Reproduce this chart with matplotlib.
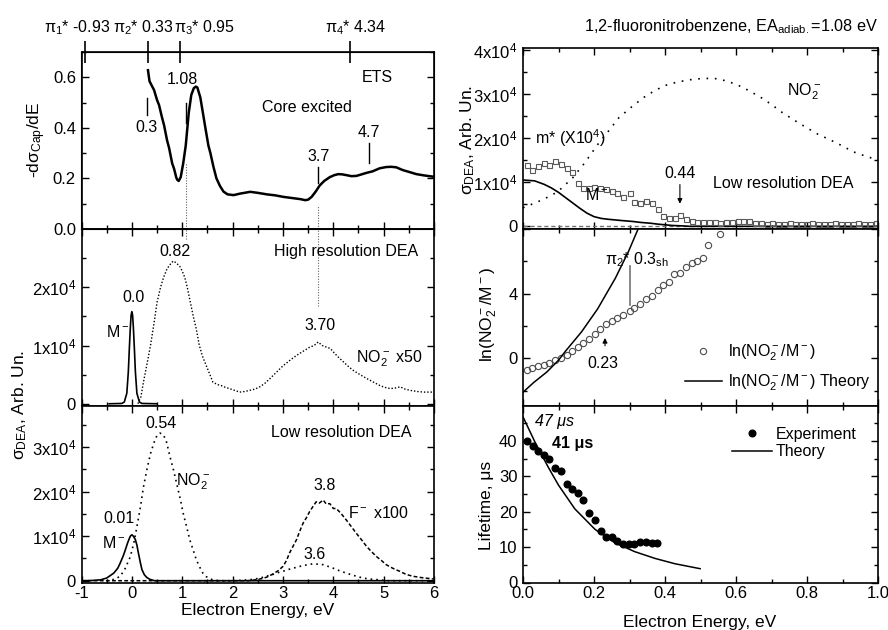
import numpy as np
import matplotlib
matplotlib.use("Agg")
import matplotlib.pyplot as plt
from matplotlib.ticker import MultipleLocator, FixedLocator, NullLocator, NullFormatter
import matplotlib.transforms as mtransforms

plt.rcParams['font.family'] = ['Liberation Sans', 'DejaVu Sans']
plt.rcParams['mathtext.fontset'] = 'custom'
plt.rcParams['mathtext.rm'] = 'Liberation Sans'
plt.rcParams['mathtext.it'] = 'Liberation Sans:italic'
plt.rcParams['mathtext.bf'] = 'Liberation Sans:bold'
plt.rcParams['mathtext.default'] = 'regular'
plt.rcParams['axes.unicode_minus'] = False

# ---------------- data ----------------
# ETS derivative, top left
ets_x = [0.32, 0.35, 0.37, 0.40, 0.44, 0.50, 0.54, 0.60, 0.64, 0.70, 0.74, 0.80, 0.84,
         0.88, 0.90, 0.93, 0.97, 1.02, 1.07, 1.13, 1.18, 1.23, 1.27, 1.30, 1.36, 1.41,
         1.46, 1.52, 1.56, 1.62, 1.68, 1.75, 1.82, 1.90, 2.02, 2.15, 2.35, 2.50, 2.68,
         2.85, 3.01, 3.20, 3.35, 3.44, 3.50, 3.57, 3.65, 3.73, 3.82, 3.93, 4.02, 4.10,
         4.18, 4.26, 4.36, 4.46, 4.56, 4.66, 4.78, 4.92, 5.05, 5.15, 5.25, 5.38, 5.50,
         5.65, 5.80, 5.98]
ets_y = [0.628, 0.585, 0.577, 0.565, 0.55, 0.51, 0.49, 0.44, 0.41, 0.35, 0.32, 0.26, 0.237,
         0.205, 0.195, 0.19, 0.205, 0.26, 0.33, 0.46, 0.53, 0.557, 0.563, 0.56, 0.52, 0.46,
         0.40, 0.33, 0.30, 0.246, 0.20, 0.17, 0.148, 0.137, 0.134, 0.14, 0.147, 0.143, 0.137,
         0.133, 0.127, 0.122, 0.118, 0.114, 0.116, 0.127, 0.148, 0.172, 0.19, 0.205, 0.213,
         0.217, 0.216, 0.213, 0.209, 0.21, 0.216, 0.222, 0.228, 0.24, 0.245, 0.246, 0.244,
         0.233, 0.226, 0.217, 0.212, 0.207]
pi_pos = [-0.93, 0.33, 0.95, 4.34]
pi_labels = ["π$_1$* -0.93", "π$_2$* 0.33", "π$_3$* 0.95", "π$_4$* 4.34"]

# high resolution DEA (units of 1e4)
hr_m_x = [-0.45, -0.2, -0.15, -0.1, -0.07, -0.05, -0.03, -0.015, 0.0, 0.015, 0.03, 0.05,
          0.07, 0.1, 0.15, 0.2, 0.5]
hr_m_y = [0.0, 0.005, 0.03, 0.18, 0.55, 0.95, 1.31, 1.52, 1.58, 1.52, 1.31, 0.95, 0.55,
          0.18, 0.03, 0.005, 0.0]
hr_no2_x = [0.12, 0.18, 0.23, 0.30, 0.37, 0.44, 0.50, 0.57, 0.63, 0.70, 0.76, 0.82, 0.88,
            0.95, 1.00, 1.05, 1.10, 1.15, 1.22, 1.28, 1.34, 1.40, 1.48, 1.55, 1.61, 1.70,
            1.78, 1.86, 1.94, 2.04, 2.14, 2.24, 2.34, 2.44, 2.54, 2.64, 2.74, 2.87, 3.00,
            3.13, 3.27, 3.40, 3.53, 3.62, 3.70, 3.78, 3.87, 3.94, 4.00, 4.10, 4.20, 4.30,
            4.40, 4.53, 4.67, 4.80, 4.93, 5.03, 5.13, 5.23, 5.33, 5.43, 5.53, 5.67, 5.80, 5.98]
hr_no2_y = [0.0, 0.12, 0.37, 0.68, 1.0, 1.38, 1.74, 2.0, 2.17, 2.32, 2.39, 2.45, 2.42,
            2.36, 2.28, 2.17, 2.0, 1.79, 1.5, 1.28, 1.0, 0.82, 0.65, 0.5, 0.37, 0.33,
            0.31, 0.28, 0.26, 0.23, 0.2, 0.21, 0.23, 0.25, 0.29, 0.35, 0.43, 0.54, 0.65,
            0.74, 0.83, 0.9, 0.97, 1.0, 1.06, 1.0, 0.97, 0.95, 0.89, 0.80, 0.72, 0.64,
            0.57, 0.50, 0.43, 0.37, 0.31, 0.28, 0.26, 0.27, 0.29, 0.25, 0.23, 0.21, 0.20, 0.20]

# low resolution DEA (units of 1e4)
lr_m_x = [-1.0, -0.8, -0.62, -0.5, -0.36, -0.28, -0.23, -0.17, -0.13, -0.09, -0.06, -0.03,
          0.0, 0.03, 0.07, 0.10, 0.13, 0.17, 0.20, 0.25, 0.30, 0.36, 0.45, 6.0]
lr_m_y = [0.0, 0.005, 0.02, 0.06, 0.17, 0.28, 0.40, 0.56, 0.69, 0.83, 0.92, 1.0,
          1.03, 1.0, 0.92, 0.80, 0.62, 0.40, 0.25, 0.13, 0.07, 0.03, 0.0, 0.0]
lr_no2_x = [-0.5, -0.35, -0.23, -0.13, -0.03, 0.04, 0.10, 0.17, 0.23, 0.30, 0.37, 0.44,
            0.50, 0.56, 0.62, 0.68, 0.76, 0.83, 0.89, 0.96, 1.02, 1.09, 1.15, 1.22, 1.28,
            1.35, 1.41, 1.48, 1.55, 1.65, 1.75, 1.9, 2.0, 2.2, 2.4, 2.55, 2.67, 2.8, 2.9,
            3.0, 3.1, 3.2, 3.3, 3.4, 3.5, 3.6, 3.7, 3.8, 3.9, 4.0, 4.13, 4.26, 4.4, 4.52,
            4.65, 4.79, 4.92, 5.05, 5.3, 5.6, 6.0]
lr_no2_y = [0.0, 0.03, 0.1, 0.28, 0.54, 0.85, 1.21, 1.65, 2.1, 2.5, 2.85, 3.1, 3.26, 3.31,
            3.28, 3.15, 2.77, 2.47, 2.18, 1.84, 1.51, 1.2, 0.92, 0.68, 0.47, 0.3, 0.17,
            0.09, 0.04, 0.01, 0.0, 0.0, 0.0, 0.01, 0.03, 0.06, 0.1, 0.14, 0.18, 0.21, 0.25,
            0.28, 0.31, 0.34, 0.36, 0.38, 0.37, 0.36, 0.32, 0.28, 0.22, 0.17, 0.12, 0.08,
            0.05, 0.03, 0.02, 0.0, 0.0, 0.0, 0.0]
lr_f_x = [-1.0, 2.3, 2.45, 2.6, 2.7, 2.8, 2.9, 3.0, 3.07, 3.13, 3.2, 3.27, 3.33, 3.4, 3.47,
          3.53, 3.6, 3.66, 3.72, 3.8, 3.86, 3.93, 4.0, 4.06, 4.16, 4.26, 4.36, 4.46, 4.56,
          4.66, 4.76, 4.86, 4.96, 5.05, 5.18, 5.32, 5.45, 5.58, 5.75, 5.98]
lr_f_y = [0.0, 0.0, 0.02, 0.05, 0.09, 0.15, 0.22, 0.32, 0.45, 0.62, 0.77, 0.92, 1.1, 1.29,
          1.42, 1.55, 1.67, 1.77, 1.74, 1.81, 1.72, 1.73, 1.62, 1.62, 1.5, 1.36, 1.21, 1.06,
          0.92, 0.77, 0.65, 0.54, 0.45, 0.36, 0.28, 0.21, 0.14, 0.1, 0.07, 0.04]

# right top: low resolution DEA near 0 eV (units of 1e4)
rt_no2_x = [0.0, 0.04, 0.08, 0.10, 0.14, 0.175, 0.21, 0.24, 0.27, 0.305, 0.34, 0.37, 0.40,
            0.435, 0.47, 0.505, 0.54, 0.57, 0.60, 0.635, 0.67, 0.70, 0.73, 0.765, 0.80,
            0.83, 0.865, 0.90, 0.93, 0.965, 1.0]
rt_no2_y = [0.42, 0.55, 0.70, 0.80, 1.1, 1.45, 1.85, 2.15, 2.46, 2.7, 2.92, 3.07, 3.19,
            3.27, 3.32, 3.35, 3.35, 3.3, 3.22, 3.08, 2.92, 2.76, 2.58, 2.4, 2.23, 2.09,
            1.96, 1.82, 1.69, 1.59, 1.5]
rt_m_x = [0.0, 0.033, 0.06, 0.08, 0.10, 0.12, 0.14, 0.16, 0.18, 0.20, 0.22, 0.24, 0.26,
          0.28, 0.31, 0.33, 0.36, 0.38, 0.40, 0.42, 0.45, 0.47, 0.5, 0.6, 0.8, 1.0]
rt_m_y = [1.05, 1.03, 0.95, 0.87, 0.77, 0.65, 0.53, 0.41, 0.30, 0.22, 0.18, 0.16, 0.145,
          0.13, 0.11, 0.09, 0.07, 0.05, 0.035, 0.02, 0.01, 0.0, 0.0, 0.0, 0.0, 0.0]
mstar_x = [0.010, 0.026, 0.043, 0.059, 0.074, 0.090, 0.106, 0.123, 0.139, 0.154, 0.170,
           0.186, 0.201, 0.217, 0.233, 0.250, 0.266, 0.283, 0.300, 0.314, 0.330, 0.347,
           0.363, 0.379, 0.395, 0.411, 0.427, 0.443, 0.459, 0.475, 0.491, 0.508, 0.524,
           0.540, 0.556, 0.572, 0.589, 0.605, 0.621, 0.637, 0.653, 0.670, 0.686, 0.702,
           0.718, 0.734, 0.751, 0.767, 0.783, 0.799, 0.815, 0.831, 0.848, 0.864, 0.880,
           0.896, 0.912, 0.929, 0.945, 0.961, 0.977, 0.993]
mstar_y = [1.39, 1.28, 1.37, 1.44, 1.39, 1.49, 1.41, 1.32, 1.23, 0.98, 0.88, 0.86, 0.89,
           0.86, 0.84, 0.80, 0.76, 0.66, 0.75, 0.55, 0.54, 0.58, 0.52, 0.39, 0.24, 0.19,
           0.20, 0.25, 0.16, 0.12, 0.10, 0.10, 0.10, 0.09, 0.08, 0.09, 0.10, 0.12, 0.13,
           0.12, 0.08, 0.07, 0.06, 0.07, 0.06, 0.06, 0.07, 0.06, 0.06, 0.06, 0.07, 0.06,
           0.06, 0.06, 0.07, 0.06, 0.06, 0.06, 0.07, 0.06, 0.06, 0.07]

# right middle: ln(NO2-/M-)
ln_x = [0.010, 0.026, 0.043, 0.059, 0.074, 0.090, 0.106, 0.123, 0.139, 0.154, 0.170, 0.186,
        0.202, 0.218, 0.234, 0.250, 0.266, 0.283, 0.300, 0.313, 0.330, 0.347, 0.363, 0.379,
        0.395, 0.410, 0.426, 0.443, 0.460, 0.475, 0.490, 0.508, 0.522, 0.555]
ln_y = [-0.70, -0.60, -0.50, -0.40, -0.27, -0.12, 0.02, 0.23, 0.44, 0.68, 0.95, 1.22, 1.53,
        1.84, 2.11, 2.32, 2.47, 2.67, 2.92, 3.13, 3.36, 3.67, 3.88, 4.23, 4.54, 4.74, 5.20,
        5.26, 5.67, 5.88, 6.03, 6.23, 7.02, 7.72]
ln_th_x = [0.0, 0.03, 0.067, 0.10, 0.12, 0.165, 0.21, 0.26, 0.297, 0.33]
ln_th_y = [-2.1, -1.5, -0.85, -0.12, 0.45, 1.64, 3.05, 4.95, 6.6, 8.3]

# right bottom: lifetime
lt_x = [0.012, 0.027, 0.043, 0.059, 0.074, 0.090, 0.106, 0.123, 0.139, 0.154, 0.170, 0.186,
        0.203, 0.219, 0.234, 0.250, 0.266, 0.283, 0.299, 0.313, 0.330, 0.346, 0.363, 0.378]
lt_y = [40.1, 38.5, 37.1, 36.1, 34.9, 32.3, 31.5, 27.7, 26.3, 25.3, 23.2, 19.6, 17.7, 14.6,
        12.9, 12.9, 11.8, 10.8, 10.9, 10.9, 11.3, 11.5, 11.1, 11.1]
lt_th_x = [0.0, 0.034, 0.071, 0.10, 0.146, 0.203, 0.259, 0.315, 0.372, 0.428, 0.499]
lt_th_y = [46.8, 39.6, 32.6, 27.5, 20.8, 15.0, 11.2, 8.7, 6.8, 5.3, 3.9]

e4_labels = ["0", "1x10$^4$", "2x10$^4$", "3x10$^4$", "4x10$^4$"]

# ---------------- figure ----------------
W, H = 888, 630
fig = plt.figure(figsize=(W / 100, H / 100), dpi=100)


def box(l, t, r, b):
    return [l / W, 1 - b / H, (r - l) / W, (b - t) / H]


ax_ets = fig.add_axes(box(81.5, 52, 434, 229))
ax_hr = fig.add_axes(box(81.5, 229, 434, 405.5))
ax_lr = fig.add_axes(box(81.5, 405.5, 434, 582.5))
ax_rt = fig.add_axes(box(523, 48, 878, 229))
ax_ln = fig.add_axes(box(523, 229, 878, 405.5))
ax_lt = fig.add_axes(box(523, 405.5, 878, 582.5))

TS = 12     # tick labels
AS = 11.5   # annotations


def style(ax):
    ax.tick_params(which='both', direction='in', top=True, right=True,
                   labelsize=TS, width=1, pad=4)
    ax.tick_params(axis='x', which='both', pad=2.5)
    ax.tick_params(which='major', length=5)
    ax.tick_params(which='minor', length=3)
    for s in ax.spines.values():
        s.set_linewidth(1.2)


for ax in (ax_ets, ax_hr, ax_lr):
    style(ax)
    ax.set_xlim(-1, 6)
    ax.xaxis.set_major_locator(MultipleLocator(1))
    ax.xaxis.set_minor_locator(MultipleLocator(0.5))
for ax in (ax_rt, ax_ln, ax_lt):
    style(ax)
    ax.set_xlim(0, 1)
    ax.xaxis.set_major_locator(MultipleLocator(0.2))
    ax.xaxis.set_minor_locator(MultipleLocator(0.1))
for ax in (ax_ets, ax_hr, ax_rt, ax_ln):
    ax.xaxis.set_major_formatter(NullFormatter())

ax_lt.xaxis.set_major_formatter(plt.FuncFormatter(lambda v, p: f"{v:.1f}"))

dot_fine = (0, (1, 1.4))
dot_mid = (0, (1, 2.4))
dot_sparse = (0, (1, 4.0))

# ---- top left: ETS ----
ax_ets.plot(ets_x, ets_y, color='k', lw=1.8)
ax_ets.set_ylim(0, 0.7)
ax_ets.yaxis.set_major_locator(MultipleLocator(0.2))
ax_ets.yaxis.set_minor_locator(MultipleLocator(0.1))
ax_ets.yaxis.set_major_formatter(plt.FuncFormatter(lambda v, p: f"{v:.1f}"))
for x0, y0, y1 in [(0.3, 0.45, 0.52), (1.08, 0.42, 0.50), (3.70, 0.18, 0.245), (4.70, 0.26, 0.34)]:
    ax_ets.plot([x0, x0], [y0, y1], color='k', lw=1)
ax_ets.plot([1.08, 1.08], [0, 0.26], color='0.4', lw=0.8, ls=dot_fine)
ax_ets.plot([3.70, 3.70], [0, 0.095], color='0.4', lw=0.8, ls=dot_fine)
for s, x, y in [("0.3", 0.3, 0.40), ("1.08", 1.0, 0.59), ("Core excited", 3.47, 0.48),
                ("ETS", 4.88, 0.60), ("3.7", 3.7, 0.285), ("4.7", 4.71, 0.38)]:
    ax_ets.text(x, y, s, fontsize=AS, ha='center', va='center')

ax_top = ax_ets.twiny()
ax_top.set_xlim(-1, 6)
ax_top.set_xticks(pi_pos)
ax_top.xaxis.set_minor_locator(NullLocator())
ax_top.tick_params(axis='x', direction='inout', length=16, width=1.2, labeltop=False)
trans = mtransforms.blended_transform_factory(ax_ets.transData, ax_ets.transAxes)
for s, xc in zip(pi_labels, [-1.08, 0.24, 1.45, 4.45]):
    ax_ets.text(xc, 1.14, s, fontsize=AS, ha='center', va='center', transform=trans)

# ---- middle left: high resolution DEA ----
ax_hr.plot(hr_m_x, hr_m_y, color='k', lw=1.2)
ax_hr.plot(hr_no2_x, hr_no2_y, color='k', lw=1.0, ls=dot_fine)
ax_hr.plot([1.08, 1.08], [2.82, 3.0], color='0.4', lw=0.8, ls=dot_fine)
ax_hr.plot([3.70, 3.70], [1.67, 3.0], color='0.4', lw=0.8, ls=dot_fine)
ax_hr.set_ylim(-0.03, 3.0)
ax_hr.yaxis.set_major_locator(FixedLocator([0, 1, 2]))
ax_hr.yaxis.set_minor_locator(FixedLocator([0.5, 1.5, 2.5]))
ax_hr.set_yticklabels(e4_labels[:3])
for s, x, y in [("0.82", 0.86, 2.62), ("High resolution DEA", 4.26, 2.62), ("0.0", 0.03, 1.83),
                ("M$^-$", -0.29, 1.23), ("3.70", 3.73, 1.34), ("NO$_2^-$ x50", 5.12, 0.77)]:
    ax_hr.text(x, y, s, fontsize=AS, ha='center', va='center')

# ---- bottom left: low resolution DEA ----
ax_lr.plot(lr_m_x, lr_m_y, color='k', lw=1.2)
ax_lr.plot(lr_no2_x, lr_no2_y, color='k', lw=1.2, ls=dot_mid)
ax_lr.plot(lr_f_x, lr_f_y, color='k', lw=1.1, ls=(0, (2.5, 1.5)))
ax_lr.set_ylim(-0.04, 3.93)
ax_lr.yaxis.set_major_locator(FixedLocator([0, 1, 2, 3]))
ax_lr.yaxis.set_minor_locator(FixedLocator([0.5, 1.5, 2.5, 3.5]))
ax_lr.set_yticklabels(e4_labels[:4])
for s, x, y in [("0.54", 0.57, 3.52), ("Low resolution DEA", 4.16, 3.33), ("NO$_2^-$", 1.22, 2.22),
                ("3.8", 3.83, 2.14), ("F$^-$ x100", 4.89, 1.51), ("0.01", -0.26, 1.40),
                ("M$^-$", -0.36, 0.84), ("3.6", 3.63, 0.58)]:
    ax_lr.text(x, y, s, fontsize=AS, ha='center', va='center')

# ---- right top ----
ax_rt.axhline(0, color='0.45', lw=1, ls=(0, (3, 2)))
ax_rt.plot(rt_no2_x, rt_no2_y, color='k', lw=1.2, ls=dot_sparse)
ax_rt.plot(rt_m_x, rt_m_y, color='k', lw=1.2)
ax_rt.plot(mstar_x, mstar_y, ls='none', marker='s', ms=3.6, mfc='none', mec='0.35', mew=0.8)
ax_rt.set_ylim(-0.06, 4.04)
ax_rt.yaxis.set_major_locator(FixedLocator([0, 1, 2, 3, 4]))
ax_rt.yaxis.set_minor_locator(FixedLocator([0.5, 1.5, 2.5, 3.5]))
ax_rt.set_yticklabels(e4_labels)
ax_rt.text(0.743, 3.05, "NO$_2^-$", fontsize=AS, ha='left', va='center')
ax_rt.text(0.034, 2.0, "m* (X10$^4$)", fontsize=AS, ha='left', va='center')
ax_rt.text(0.442, 1.2, "0.44", fontsize=AS, ha='center', va='center')
ax_rt.text(0.536, 0.98, "Low resolution DEA", fontsize=AS, ha='left', va='center')
ax_rt.text(0.207, 0.72, "M$^-$", fontsize=AS, ha='center', va='center')
ax_rt.annotate('', xy=(0.442, 0.45), xytext=(0.442, 1.01),
               arrowprops=dict(arrowstyle='-|>', color='k', lw=0.8, mutation_scale=7))
ax_rt.set_title("1,2-fluoronitrobenzene, EA$_{adiab.}$=1.08 eV", fontsize=11.7,
                loc='right', pad=12)

# ---- right middle ----
ax_ln.plot(ln_x, ln_y, ls='none', marker='o', ms=4.5, mfc='none', mec='0.3', mew=0.8,
           label="ln(NO$_2^-$/M$^-$)")
ax_ln.plot(ln_th_x, ln_th_y, color='k', lw=1.1, label="ln(NO$_2^-$/M$^-$) Theory")
ax_ln.set_ylim(-2.92, 8.0)
ax_ln.yaxis.set_major_locator(FixedLocator([0, 4, 8]))
ax_ln.yaxis.set_minor_locator(FixedLocator([-2, 2, 6]))
ax_ln.set_yticklabels(["0", "4", ""])
ax_ln.plot([0.301, 0.301], [3.3, 5.7], color='0.45', lw=1.2)
ax_ln.text(0.231, 6.1, "π$_2$* 0.3$_{sh}$", fontsize=AS, ha='left', va='center')
ax_ln.text(0.226, -0.33, "0.23", fontsize=AS, ha='center', va='center')
ax_ln.annotate('', xy=(0.231, 1.43), xytext=(0.231, 0.6),
               arrowprops=dict(arrowstyle='-|>', color='k', lw=0.8, mutation_scale=7))
ax_ln.legend(loc='upper left', bbox_to_anchor=(0.456, 0.355), frameon=False, fontsize=AS,
             handlelength=2.3, handletextpad=0.4, labelspacing=0.55, borderpad=0,
             borderaxespad=0)

# ---- right bottom ----
ax_lt.plot(lt_x, lt_y, ls='none', marker='o', ms=4.8, color='k', label="Experiment")
ax_lt.plot(lt_th_x, lt_th_y, color='k', lw=1.1, label="Theory")
ax_lt.set_ylim(0, 50)
ax_lt.yaxis.set_major_locator(FixedLocator([0, 10, 20, 30, 40]))
ax_lt.yaxis.set_minor_locator(FixedLocator([5, 15, 25, 35, 45]))
ax_lt.text(0.034, 45.5, "47 μs", fontsize=AS, style='italic', ha='left', va='center')
ax_lt.text(0.081, 39.3, "41 μs", fontsize=AS, weight='bold', ha='left', va='center')
ax_lt.legend(loc='upper left', bbox_to_anchor=(0.588, 0.88), frameon=False, fontsize=AS,
             handlelength=2.5, handletextpad=0.25, labelspacing=0.15, borderpad=0,
             borderaxespad=0)

# ---- axis labels ----
LS = 12.5
fig.text(37 / W, 1 - 140 / H, "-dσ$_{Cap}$/dE", rotation=90, fontsize=LS, ha='center', va='center')
fig.text(20 / W, 1 - 405 / H, "σ$_{DEA}$, Arb. Un.", rotation=90, fontsize=LS, ha='center', va='center')
fig.text(468 / W, 1 - 140 / H, "σ$_{DEA}$, Arb. Un.", rotation=90, fontsize=LS, ha='center', va='center')
fig.text(489 / W, 1 - 315 / H, "ln(NO$_2^-$/M$^-$)", rotation=90, fontsize=LS, ha='center', va='center')
fig.text(486 / W, 1 - 505 / H, "Lifetime, μs", rotation=90, fontsize=LS, ha='center', va='center')
fig.text(257.5 / W, 1 - 611 / H, "Electron Energy, eV", fontsize=LS, ha='center', va='center')
fig.text(700 / W, 1 - 622 / H, "Electron Energy, eV", fontsize=LS, ha='center', va='center')

fig.savefig("out.png", dpi=100)
